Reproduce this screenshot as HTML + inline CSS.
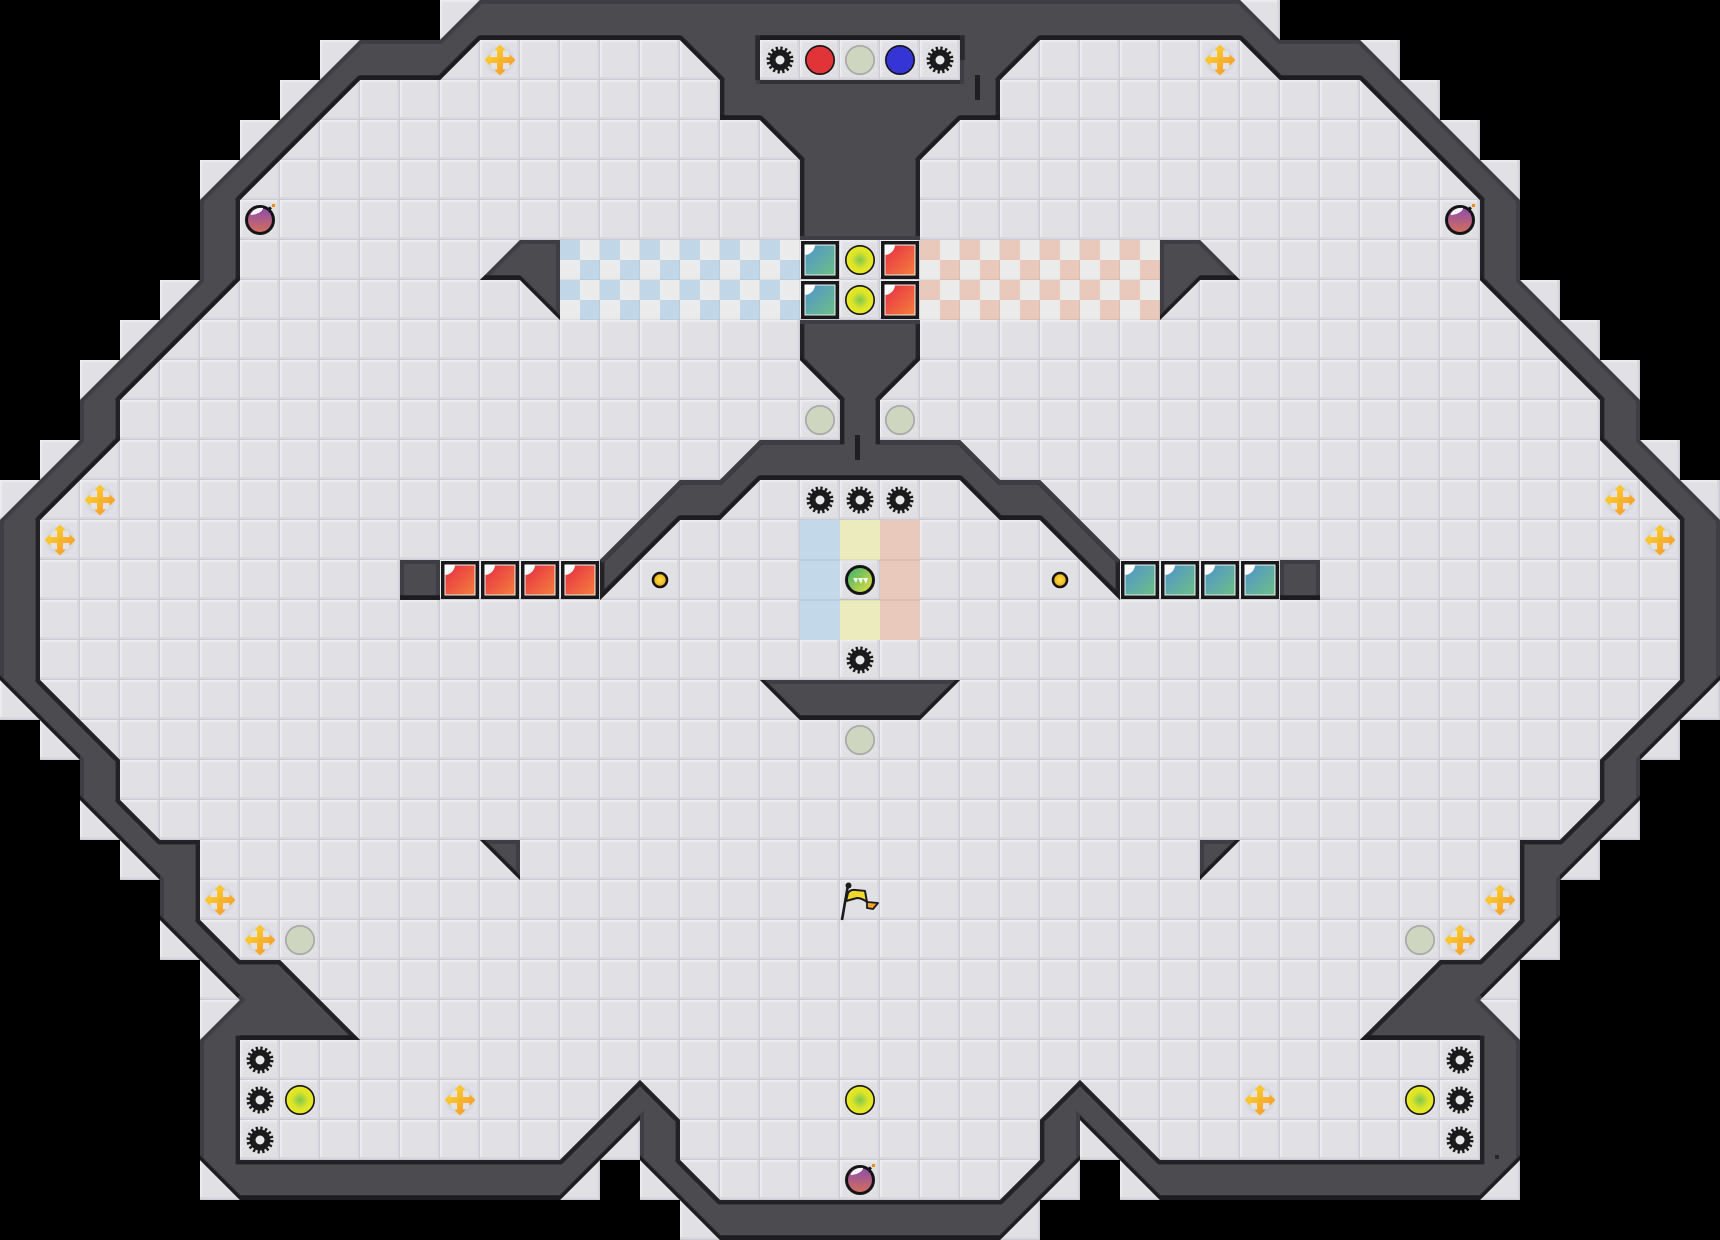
<!DOCTYPE html>
<html><head><meta charset="utf-8"><title>Map</title>
<style>html,body{margin:0;padding:0;background:#000;width:1720px;height:1240px;overflow:hidden}svg{display:block}</style>
</head><body>
<svg xmlns="http://www.w3.org/2000/svg" width="1720" height="1240" viewBox="0 0 1720 1240">
<defs>
<pattern id="tile" width="40" height="40" patternUnits="userSpaceOnUse">
<rect width="40" height="40" fill="#e0e0e5"/>
<rect x="1" y="0" width="2" height="40" fill="#e6e6ea"/><rect x="0" y="1" width="40" height="2" fill="#e6e6ea"/>
<rect width="1" height="40" fill="#eeeef1"/><rect width="40" height="1" fill="#eeeef1"/>
<rect x="37" width="2" height="40" fill="#d9d9df"/><rect y="37" width="40" height="2" fill="#d9d9df"/>
<rect x="39" width="1" height="40" fill="#cbcbd3"/><rect y="39" width="40" height="1" fill="#cbcbd3"/>
</pattern>
<pattern id="chb" width="40" height="40" patternUnits="userSpaceOnUse">
<rect width="40" height="40" fill="#ebebec"/><rect width="20" height="20" fill="#c1d7e8"/><rect x="20" y="20" width="20" height="20" fill="#c1d7e8"/>
<rect x="39" width="1" height="40" fill="#000" opacity=".05"/><rect y="39" width="40" height="1" fill="#000" opacity=".05"/>
</pattern>
<pattern id="chr" width="40" height="40" patternUnits="userSpaceOnUse">
<rect width="40" height="40" fill="#ebebec"/><rect width="20" height="20" fill="#e9c9bb"/><rect x="20" y="20" width="20" height="20" fill="#e9c9bb"/>
<rect x="39" width="1" height="40" fill="#000" opacity=".05"/><rect y="39" width="40" height="1" fill="#000" opacity=".05"/>
</pattern>
<linearGradient id="gr" x1="0" y1="0" x2="1" y2="1"><stop offset="0" stop-color="#e62f45"/><stop offset="1" stop-color="#f57f3c"/></linearGradient>
<linearGradient id="gt" x1="0" y1="0" x2="1" y2="1"><stop offset="0" stop-color="#4f96cb"/><stop offset="1" stop-color="#6fbd88"/></linearGradient>
<radialGradient id="gy"><stop offset="0" stop-color="#7cc850"/><stop offset=".55" stop-color="#d8e22c"/><stop offset="1" stop-color="#eeea1e"/></radialGradient>
<linearGradient id="gc" x1="0" y1="0" x2="1" y2="1"><stop offset="0" stop-color="#ffdf2f"/><stop offset="1" stop-color="#f78f2c"/></linearGradient>
<linearGradient id="gb" x1="0" y1="0" x2="0" y2="1"><stop offset="0" stop-color="#8a4bb0"/><stop offset="1" stop-color="#d66f58"/></linearGradient>
<linearGradient id="gm" x1="0" y1="0" x2="1" y2="1"><stop offset="0" stop-color="#2fae73"/><stop offset="1" stop-color="#efe238"/></linearGradient>
<radialGradient id="gd"><stop offset="0" stop-color="#ffe03a"/><stop offset="1" stop-color="#eda91f"/></radialGradient>

<path id="H" d="M12 1L17 1L18 2L18 3L19 3L20 4L20 9L21 10L21 11L19 11L18 12L17 12L15 14L15 15L17 13L18 13L19 12L24 12L25 13L26 13L28 15L28 14L26 12L25 12L24 11L22 11L22 10L23 9L23 4L24 3L25 3L25 2L26 1L31 1L32 2L34 2L37 5L37 7L40 10L40 11L42 13L42 17L40 19L40 20L39 21L38 21L38 23L37 24L36 24L34 26L37 26L37 29L29 29L27 27L26 28L26 29L25 30L18 30L17 29L17 28L16 27L14 29L6 29L6 26L9 26L7 24L6 24L5 23L5 21L4 21L3 20L3 19L1 17L1 13L3 11L3 10L6 7L6 5L9 2L11 2Z"/>
<path id="W" fill-rule="evenodd" clip-rule="evenodd" d="M12 0L31 0L32 1L34 1L38 5L38 7L41 10L41 11L43 13L43 17L41 19L41 20L39 22L39 23L37 25L38 26L38 29L37 30L29 30L27 28L27 29L25 31L18 31L16 29L16 28L14 30L6 30L5 29L5 26L6 25L4 23L4 22L2 20L2 19L0 17L0 13L2 11L2 10L5 7L5 5L9 1L11 1Z
M12 1L17 1L18 2L18 3L19 3L20 4L20 9L21 10L21 11L19 11L18 12L17 12L15 14L15 15L17 13L18 13L19 12L24 12L25 13L26 13L28 15L28 14L26 12L25 12L24 11L22 11L22 10L23 9L23 4L24 3L25 3L25 2L26 1L31 1L32 2L34 2L37 5L37 7L40 10L40 11L42 13L42 17L40 19L40 20L39 21L38 21L38 23L37 24L36 24L34 26L37 26L37 29L29 29L27 27L26 28L26 29L25 30L18 30L17 29L17 28L16 27L14 29L6 29L6 26L9 26L7 24L6 24L5 23L5 21L4 21L3 20L3 19L1 17L1 13L3 11L3 10L6 7L6 5L9 2L11 2Z
M19 1H24V2H19Z
M12 7L13 6L14 6L14 8L13 7Z
M31 7L30 6L29 6L29 8L30 7Z
M19 17H24L23 18H20Z
M12 21H13V22Z
M30 21H31L30 22Z
M10 14H11V15H10Z
M32 14H33V15H32Z"/>
<clipPath id="c"><use href="#W"/></clipPath>
<clipPath id="s"><path transform="scale(40)" d="M11 0L32 0L32 1L35 1L35 2L36 2L36 3L37 3L37 4L38 4L38 7L39 7L39 8L40 8L40 9L41 9L41 11L42 11L42 12L43 12L43 18L42 18L42 19L41 19L41 21L40 21L40 22L39 22L39 24L38 24L38 30L28 30L28 29L27 29L27 30L26 30L26 31L17 31L17 30L16 30L16 29L15 29L15 30L5 30L5 24L4 24L4 22L3 22L3 21L2 21L2 19L1 19L1 18L0 18L0 12L1 12L1 11L2 11L2 9L3 9L3 8L4 8L4 7L5 7L5 4L6 4L6 3L7 3L7 2L8 2L8 1L11 1Z"/></clipPath>
<mask id="m" maskUnits="userSpaceOnUse" x="0" y="0" width="43" height="31">
<rect width="43" height="31" fill="#fff"/><use href="#W" fill="#000" transform="translate(0,-.12)"/>
</mask>

<g id="gear"><circle r="10.5" fill="#1b1b1d"/><circle r="11.5" fill="none" stroke="#1b1b1d" stroke-width="4" stroke-dasharray="2.258 2.258"/><circle r="4.5" fill="#e8e8ec"/></g>
<g id="yc"><circle r="14.2" fill="url(#gy)" stroke="#141414" stroke-width="1.6"/></g>
<g id="gy2"><circle r="14.2" fill="#ced6bf" stroke="#a6a6a6" stroke-width="1.6"/></g>
<g id="cross"><circle r="14.5" fill="#d9d9e1"/><circle r="11" fill="#e3e3e8"/><polygon fill="url(#gc)" points="0,-15.5 6,-9.5 3,-9.5 3,-3 9.5,-3 9.5,-6 15.5,0 9.5,6 9.5,3 3,3 3,9.5 6,9.5 0,15.5 -6,9.5 -3,9.5 -3,3 -9.5,3 -9.5,6 -15.5,0 -9.5,-6 -9.5,-3 -3,-3 -3,-9.5 -6,-9.5"/></g>
<g id="bomb"><path d="M8 -10L11 -12.5" stroke="#141414" stroke-width="3"/><rect x="12" y="-16" width="3" height="3" fill="#f08a20"/><circle r="13.5" fill="url(#gb)" stroke="#141414" stroke-width="3"/><path d="M-9.5 -5C-8 -10 -3 -12.5 3 -12C3 -8 -5 -5 -9.5 -5Z" fill="#fff"/></g>
<g id="rb"><rect x="1" y="1" width="38" height="38" fill="#19191c"/><rect x="4.5" y="4.5" width="31" height="31" fill="#f2ece4"/><rect x="5.5" y="5.5" width="29" height="29" fill="url(#gr)"/><path d="M4.5 4.5H15A10.5 10.5 0 0 1 4.5 15Z" fill="#fff"/></g>
<g id="tb"><rect x="1" y="1" width="38" height="38" fill="#19191c"/><rect x="4.5" y="4.5" width="31" height="31" fill="#e6eeea"/><rect x="5.5" y="5.5" width="29" height="29" fill="url(#gt)"/><path d="M4.5 4.5H15A10.5 10.5 0 0 1 4.5 15Z" fill="#fff"/></g>
<g id="dot"><circle r="7" fill="url(#gd)" stroke="#141414" stroke-width="2.6"/></g>
</defs>

<rect width="1720" height="1240" fill="#000"/>
<g clip-path="url(#s)"><rect width="1720" height="1240" fill="url(#tile)"/></g>

<rect x="560" y="240" width="240" height="80" fill="url(#chb)"/>
<rect x="920" y="240" width="240" height="80" fill="url(#chr)"/>

<rect x="800" y="520" width="40" height="120" fill="#c3d8e8"/>
<rect x="840" y="520" width="40" height="40" fill="#ecebbd"/>
<rect x="840" y="600" width="40" height="40" fill="#ecebbd"/>
<rect x="880" y="520" width="40" height="120" fill="#e9c9bb"/>
<path d="M800 560H920M800 600H920" stroke="#000" stroke-opacity=".05" stroke-width="2"/>

<g transform="scale(40)">
<g clip-path="url(#c)">
<rect width="43" height="31" fill="#4c4b50"/>
<use href="#W" fill="none" stroke="#3e3d43" stroke-width=".2"/>
<use href="#H" fill="none" stroke="#232226" stroke-width=".22"/>
<path d="M15 14L17 12L18 12L19 11L21 11M22 11L24 11L25 12L26 12L28 14" fill="none" stroke="#3e3d43" stroke-width=".2"/>
<rect x="20" y="6" width="3" height="2" fill="none" stroke="#3e3d43" stroke-width=".2"/>
<path d="M19 2V1H24V1.5" fill="none" stroke="#2a292e" stroke-width=".24"/>
<path d="M19 2H24" fill="none" stroke="#333237" stroke-width=".2"/>
<rect width="43" height="31" fill="#1d1c20" mask="url(#m)"/>
</g>
</g>

<!-- central floor patch -->
<rect x="800" y="240" width="120" height="80" fill="url(#tile)"/>

<!-- small marks on walls -->
<rect x="975" y="75" width="5" height="25" fill="#1f1e22"/>
<rect x="855" y="435" width="5" height="25" fill="#1f1e22"/>
<rect x="1495" y="1155" width="4" height="4" fill="#28272b"/>

<!-- panel -->
<rect x="760" y="40" width="200" height="40" fill="url(#tile)"/>
<use href="#gear" x="780" y="60"/>
<circle cx="820" cy="60" r="14.2" fill="#e03438" stroke="#141414" stroke-width="1.6"/>
<use href="#gy2" x="860" y="60"/>
<circle cx="900" cy="60" r="14.2" fill="#3535d6" stroke="#141414" stroke-width="1.6"/>
<use href="#gear" x="940" y="60"/>

<!-- center blocks -->
<use href="#tb" x="800" y="240"/><use href="#tb" x="800" y="280"/>
<use href="#rb" x="880" y="240"/><use href="#rb" x="880" y="280"/>
<use href="#yc" x="860" y="260"/><use href="#yc" x="860" y="300"/>

<!-- red and teal rows -->
<use href="#rb" x="440" y="560"/><use href="#rb" x="480" y="560"/><use href="#rb" x="520" y="560"/><use href="#rb" x="560" y="560"/>
<use href="#tb" x="1120" y="560"/><use href="#tb" x="1160" y="560"/><use href="#tb" x="1200" y="560"/><use href="#tb" x="1240" y="560"/>

<!-- gears -->
<use href="#gear" x="820" y="500"/><use href="#gear" x="860" y="500"/><use href="#gear" x="900" y="500"/>
<use href="#gear" x="860" y="660"/>
<use href="#gear" x="260" y="1060"/><use href="#gear" x="260" y="1100"/><use href="#gear" x="260" y="1140"/>
<use href="#gear" x="1460" y="1060"/><use href="#gear" x="1460" y="1100"/><use href="#gear" x="1460" y="1140"/>

<!-- circles -->
<use href="#yc" x="300" y="1100"/><use href="#yc" x="860" y="1100"/><use href="#yc" x="1420" y="1100"/>
<use href="#gy2" x="820" y="420"/><use href="#gy2" x="900" y="420"/><use href="#gy2" x="860" y="740"/><use href="#gy2" x="300" y="940"/><use href="#gy2" x="1420" y="940"/>

<!-- crosses -->
<use href="#cross" x="500" y="60"/><use href="#cross" x="1220" y="60"/>
<use href="#cross" x="100" y="500"/><use href="#cross" x="60" y="540"/>
<use href="#cross" x="1620" y="500"/><use href="#cross" x="1660" y="540"/>
<use href="#cross" x="220" y="900"/><use href="#cross" x="260" y="940"/>
<use href="#cross" x="460" y="1100"/><use href="#cross" x="1260" y="1100"/>
<use href="#cross" x="1500" y="900"/><use href="#cross" x="1460" y="940"/>

<!-- bombs -->
<use href="#bomb" x="260" y="220"/><use href="#bomb" x="1460" y="220"/><use href="#bomb" x="860" y="1180"/>

<!-- dots -->
<use href="#dot" x="660" y="580"/><use href="#dot" x="1060" y="580"/>

<!-- center ball -->
<circle cx="860" cy="580" r="13.5" fill="url(#gm)" stroke="#141414" stroke-width="3"/>
<path d="M853 578H858L856 583ZM858 578H863L861 584ZM863 578H868L866 584Z" fill="#fff" opacity=".9"/>

<!-- flag -->
<path d="M848 885L842 920" stroke="#1b1b1d" stroke-width="2.6"/>
<circle cx="848.5" cy="885.5" r="3" fill="#1b1b1d"/>
<path d="M867 902L878 903L873 909L867 908Z" fill="#f4a72b" stroke="#1b1b1d" stroke-width="1.8" stroke-linejoin="round"/>
<path d="M848 893C850 890 853 889.5 856 890C860 890.5 863 890.5 865 891L867 902C863 899 860 898 857 898L846 901Z" fill="#f1d82a" stroke="#1b1b1d" stroke-width="2" stroke-linejoin="round"/>
</svg>
</body></html>
